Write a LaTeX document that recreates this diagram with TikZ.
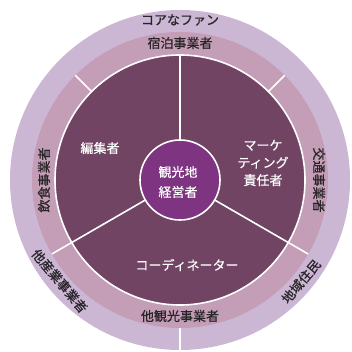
\documentclass[tikz,border=0pt]{standalone}
\usepackage{fontspec}
\setmainfont{Noto Sans CJK JP}
\newfontfamily\ringfont{Noto Sans CJK JP}[FakeBold=0.6]
\newfontfamily\discfont{Noto Sans CJK JP}[FakeBold=0.3]
\definecolor{outerring}{RGB}{203,183,212}
\definecolor{midring}{RGB}{196,158,182}
\definecolor{darkdisc}{RGB}{112,68,98}
\definecolor{corefill}{RGB}{126,52,128}
\definecolor{inktext}{RGB}{40,36,40}
\begin{document}
\begin{tikzpicture}[x=1pt,y=1pt,
  ringtext/.style={text=inktext,font=\ringfont\fontsize{13}{14}\selectfont,inner sep=0pt},
  disctext/.style={text=white,font=\discfont\fontsize{13}{17.5}\selectfont,align=center,inner sep=0pt},
  divider/.style={white,line width=1.6pt}]
\useasboundingbox (-180,-172) rectangle (171,180);
\fill[outerring] (0,0) circle (170);
\fill[midring] (0,0) circle (148);
\fill[darkdisc] (0,0) circle (125);
\draw[divider] (0,0) circle (125);
% dividers
\draw[divider] (90:40) -- (90:125);
\draw[divider] (210:40) -- (210:148);
\draw[divider] (330:40) -- (330:148);
\draw[divider] (45:125) -- (45:148);
\draw[divider] (135:125) -- (135:148);
\draw[divider] (270:148) -- (270:172);
% core
\node[circle,minimum size=80pt,fill=corefill,draw=white,line width=1.6pt,inner sep=0pt] (core) at (0,0) {};
\node[disctext,font=\discfont\fontsize{13}{20}\selectfont] (coretxt) at (-2,-2) {観光地\\経営者};
% disc texts
\node[disctext] (editor) at (-80,32) {編集者};
\node[disctext] (marketing) at (83,17) {マーケ\\ティング\\責任者};
\node[disctext] (coord) at (7,-85) {コーディネーター};
% middle ring texts
\node[ringtext] (lodging) at (90:137) {宿泊事業者};
\node[ringtext,rotate=90] (food) at (180:136) {飲食事業者};
\node[ringtext,rotate=-90] (transport) at (0:139) {交通事業者};
\node[ringtext] (tourism) at (270:136) {他観光事業者};
% outer ring texts
\node[ringtext] (fans) at (90:160) {コアなファン};
\node[ringtext,rotate=-50] (industry) at (220:157) {他産業事業者};
\node[ringtext,rotate=50] (residents) at (-40:158) {地域住民};
\end{tikzpicture}
\end{document}
